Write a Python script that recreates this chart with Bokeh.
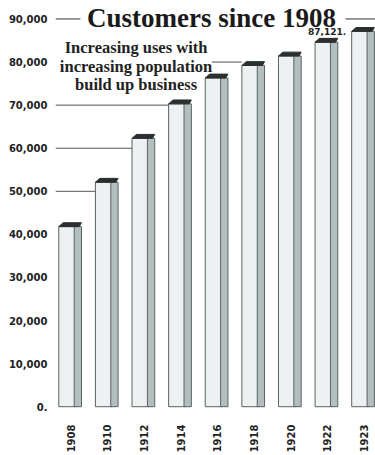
import math
from bokeh.plotting import figure
from bokeh.models import (ColumnDataSource, FixedTicker, NumeralTickFormatter, Range1d, Label)
from bokeh.embed import file_html
from bokeh.resources import INLINE

# ---- data ----
years = ["1908", "1910", "1912", "1914", "1916", "1918", "1920", "1922", "1923"]
customers = [41800, 52100, 62300, 70300, 76300, 79200, 81400, 84600, 87121]
y_ticks = [0, 10000, 20000, 30000, 40000, 50000, 60000, 70000, 80000, 90000]
title_text = "Customers since 1908"
note_lines = ["Increasing uses with", "increasing population", "build up business"]
value_label = "87,121."

# ---- geometry / style ----
idx = list(range(len(years)))
FRONT_W = 0.46
SIDE_W = 0.20
front_x = [i - 0.1 for i in idx]
side_x = [i + 0.1 + SIDE_W / 2 - 0.01 for i in idx]

p = figure(width=375, height=455, output_backend="svg", toolbar_location=None,
           x_range=Range1d(-0.42, 8.32), y_range=Range1d(-1580, 94290),
           min_border_left=55, min_border_right=0, min_border_top=0, min_border_bottom=30)
p.background_fill_color = "white"
p.border_fill_color = "white"
p.outline_line_color = None
p.xgrid.grid_line_color = None
p.ygrid.grid_line_color = None

src = ColumnDataSource(dict(fx=front_x, sx=side_x, top=customers))
p.vbar(x="fx", width=FRONT_W, top="top", bottom=0, source=src,
       fill_color="#eef1f1", line_color="#5a6262", line_width=1)
p.vbar(x="sx", width=SIDE_W, top="top", bottom=0, source=src,
       fill_color="#b3bebe", line_color="#5a6262", line_width=1)

# caps (top faces)
cx, cy = [], []
for i, v in zip(idx, customers):
    fl = front_x[i] - FRONT_W / 2
    sr = side_x[i] + SIDE_W / 2
    cx.append([fl, fl + 0.12, sr, sr - 0.06])
    cy.append([v, v + 900, v + 900, v])
p.patches(cx, cy, fill_color="#2b2f2f", line_color="#2b2f2f")

# leader lines from tick labels to the first bar reaching them
def left_edge(i):
    return front_x[i] - FRONT_W / 2

for t in [50000, 60000, 70000]:
    first = next(i for i, v in enumerate(customers) if v >= t)
    p.segment(x0=[-0.42], y0=[t], x1=[left_edge(first)], y1=[t], line_color="#555", line_width=1)
p.segment(x0=[3.85], y0=[80000], x1=[left_edge(5)], y1=[80000], line_color="#555", line_width=1)
p.segment(x0=[-0.42], y0=[90000], x1=[0.26], y1=[90000], line_color="#333", line_width=1)
p.segment(x0=[7.5], y0=[90000], x1=[8.32], y1=[90000], line_color="#333", line_width=1)

# axes
p.yaxis.ticker = FixedTicker(ticks=y_ticks)
p.yaxis.formatter = NumeralTickFormatter(format="0,0")
p.yaxis.major_label_overrides = {0: "0."}
p.yaxis.axis_line_color = None
p.yaxis.major_tick_line_color = None
p.yaxis.minor_tick_line_color = None
p.yaxis.major_label_standoff = 2
p.yaxis.major_label_text_font = "DejaVu Sans"
p.yaxis.major_label_text_font_style = "bold"
p.yaxis.major_label_text_font_size = "10px"
p.yaxis.major_label_text_color = "#222"

p.xaxis.ticker = FixedTicker(ticks=idx)
p.xaxis.major_label_overrides = {i: y for i, y in zip(idx, years)}
p.xaxis.major_label_orientation = math.pi / 2
p.xaxis.axis_line_color = None
p.xaxis.major_tick_line_color = None
p.xaxis.minor_tick_line_color = None
p.xaxis.major_label_standoff = 5
p.xaxis.major_label_text_font = "DejaVu Sans"
p.xaxis.major_label_text_font_style = "bold"
p.xaxis.major_label_text_font_size = "10px"
p.xaxis.major_label_text_color = "#222"

# title
p.add_layout(Label(x=3.84, y=90200, text=title_text, text_align="center", text_baseline="middle",
                   text_font="Liberation Serif", text_font_style="bold", text_font_size="27px",
                   text_color="#1a1a1a", background_fill_color="white"))

# note
for k, (line, yy) in enumerate(zip(note_lines, [83300, 79000, 74700])):
    p.add_layout(Label(x=1.78, y=yy, text=line, text_align="center", text_baseline="middle",
                       text_font="Liberation Serif", text_font_style="bold",
                       text_font_size="16.5px", text_color="#222"))

# value label
p.add_layout(Label(x=7, y=customers[-1], text=value_label, text_align="center", text_baseline="middle",
                   text_font="DejaVu Sans", text_font_style="bold", text_font_size="9px",
                   text_color="#222"))

open("out.html", "w").write(file_html(p, INLINE))
